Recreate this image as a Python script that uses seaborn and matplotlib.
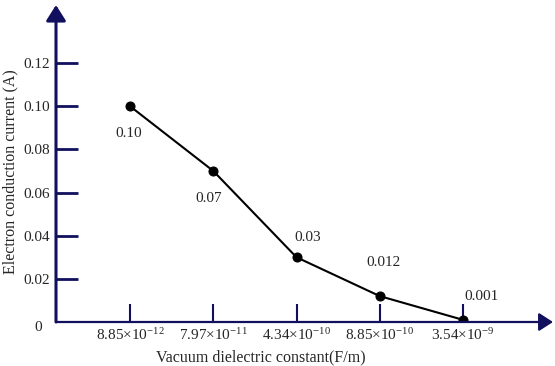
import matplotlib
matplotlib.use("Agg")
import matplotlib.pyplot as plt
import seaborn as sns
import pandas as pd

# ---- data ----
x_labels = [r"8.85$\times$10$^{-12}$", r"7.97$\times$10$^{-11}$", r"4.34$\times$10$^{-10}$",
            r"8.85$\times$10$^{-10}$", r"3.54$\times$10$^{-9}$"]
currents = [0.10, 0.07, 0.03, 0.012, 0.001]
point_labels = ["0.10", "0.07", "0.03", "0.012", "0.001"]
y_ticks = [0.02, 0.04, 0.06, 0.08, 0.10, 0.12]
y_ticklabels = ["0.02", "0.04", "0.06", "0.08", "0.10", "0.12"]
x_title = "Vacuum dielectric constant(F/m)"
y_title = "Electron conduction current (A)"

sns.set_theme(style="white")
plt.rcParams["font.family"] = ["Liberation Serif", "DejaVu Serif"]
plt.rcParams["mathtext.fontset"] = "custom"
plt.rcParams["mathtext.rm"] = "Liberation Serif"
plt.rcParams["mathtext.it"] = "Liberation Serif:italic"
plt.rcParams["mathtext.bf"] = "Liberation Serif:bold"

navy = "#10105e"
W, H = 555, 366
fig = plt.figure(figsize=(W / 100, H / 100), dpi=100)
left, right, bottom, top = 56, 553, 322, 5
ax = fig.add_axes([left / W, 1 - bottom / H, (right - left) / W, (bottom - top) / H])

df = pd.DataFrame({"pos": list(range(len(currents))), "current": currents})
sns.lineplot(data=df, x="pos", y="current", ax=ax, color="black", linewidth=1.5,
             marker="o", markersize=6.5, markeredgecolor="black", markerfacecolor="black",
             sort=False)

px = 83.25
ax.set_xlim(-74 / px, 4 + 90 / px)
ax.set_ylim(0, 317 / 2158)

for s in ax.spines.values():
    s.set_visible(False)

ax.set_xticks(df["pos"])
ax.set_xticklabels(x_labels, fontsize=11)
ax.set_yticks(y_ticks)
ax.set_yticklabels(y_ticklabels, fontsize=11)
ax.tick_params(axis="x", direction="in", length=13, width=1.5, color=navy, pad=4,
               bottom=True)
ax.tick_params(axis="y", direction="in", length=16, width=2, color=navy, pad=4,
               left=True)

# axis arrows
ax.annotate("", xy=(1, 0), xytext=(0, 0), xycoords="axes fraction",
            arrowprops=dict(arrowstyle="-|>,head_length=0.85,head_width=0.55",
                            color=navy, lw=1.6, shrinkA=0, shrinkB=0, mutation_scale=10),
            annotation_clip=False)
ax.annotate("", xy=(0, 1), xytext=(0, 0), xycoords="axes fraction",
            arrowprops=dict(arrowstyle="-|>,head_length=0.95,head_width=0.6",
                            color=navy, lw=2.2, shrinkA=0, shrinkB=0, mutation_scale=10),
            annotation_clip=False)

ax.annotate("0", xy=(0, 0), xycoords="axes fraction", xytext=(-13, -4),
            textcoords="offset points", ha="center", va="center", fontsize=11,
            annotation_clip=False)

offsets = [(-1, -20), (-3, -19.5), (8, 14), (3, 24), (13, 16.5)]
for i, (v, lab) in enumerate(zip(currents, point_labels)):
    ax.annotate(lab, xy=(i, v), xytext=offsets[i], textcoords="offset points",
                ha="center", va="center", fontsize=11)

ax.set_xlabel(x_title, fontsize=11.5, va="center")
ax.xaxis.set_label_coords((261 - left) / (right - left), (bottom - 357) / (bottom - top))
ax.set_ylabel(y_title, fontsize=11.5, va="center")
ax.yaxis.set_label_coords((10 - left) / (right - left), (bottom - 172) / (bottom - top))

fig.savefig("out.png", dpi=100)
